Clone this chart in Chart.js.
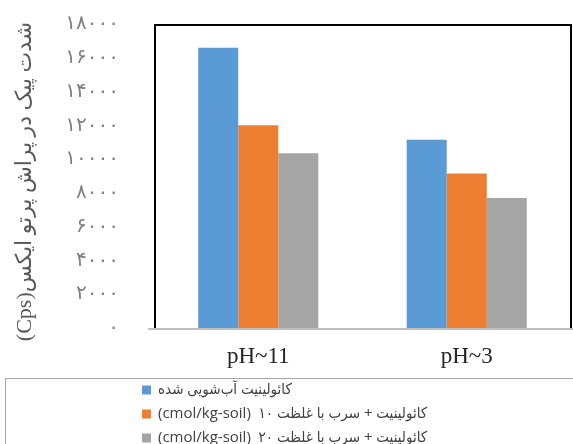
<!DOCTYPE html>
<html lang="fa">
<head>
<meta charset="utf-8">
<script src="https://cdn.jsdelivr.net/npm/chart.js@4/dist/chart.umd.min.js"></script>
<style>
  html, body { margin: 0; padding: 0; background: #ffffff; }
  #wrap { width: 573px; height: 444px; position: relative; }
  canvas { direction: rtl; }
</style>
</head>
<body>
<div id="wrap"><canvas id="c" dir="rtl" width="573" height="444"></canvas></div>
<script>
// pH categories on the x axis
const categories = ['pH~11', 'pH~3'];

// series names (legend) and peak intensities in Cps
const seriesNames = [
  'کائولینیت آب‌شویی شده',
  'کائولینیت + سرب با غلظت ۱۰  (cmol/kg-soil)',
  'کائولینیت + سرب با غلظت ۲۰  (cmol/kg-soil)'
];
const washedKaolinite = [16600, 11150];
const leadConc10 = [12000, 9150];
const leadConc20 = [10350, 7700];

const seriesColors = ['#5b9bd5', '#ed7d31', '#a5a5a5'];

const yAxisTitle = 'شدت پیک در پراش پرتو ایکس(Cps)';
const yMin = 0, yMax = 18000, yStep = 2000;

// convert Latin digits to Persian digits for tick labels
const faDigits = ['۰','۱','۲','۳','۴','۵','۶','۷','۸','۹'];
function toPersian(n) {
  return String(n).replace(/[0-9]/g, d => faDigits[+d]);
}

const AREA_LEFT = 154, AREA_TOP = 24, AREA_RIGHT = 571, AREA_BOTTOM = 328;

// frame around the plot: black left/top/right, grey base line
const framePlugin = {
  id: 'frame',
  afterDatasetsDraw(chart) {
    const { ctx, chartArea: a } = chart;
    ctx.save();
    ctx.strokeStyle = '#000000';
    ctx.lineWidth = 2;
    ctx.beginPath();
    ctx.moveTo(a.left + 1, a.bottom);
    ctx.lineTo(a.left + 1, a.top + 1);
    ctx.lineTo(a.right, a.top + 1);
    ctx.lineTo(a.right, a.bottom);
    ctx.stroke();
    ctx.strokeStyle = '#bfbfbf';
    ctx.beginPath();
    ctx.moveTo(a.left - 6, a.bottom + 1);
    ctx.lineTo(chart.width, a.bottom + 1);
    ctx.stroke();
    ctx.restore();
  }
};

// stacked legend below the plot, one series per row
const legendPlugin = {
  id: 'stackedLegend',
  afterDraw(chart) {
    const { ctx } = chart;
    ctx.save();
    ctx.strokeStyle = '#a6a6a6';
    ctx.lineWidth = 1;
    ctx.strokeRect(5.5, 378.5, chart.width + 10, 100);
    ctx.font = '15px "Open Sans", "DejaVu Sans Condensed", "DejaVu Sans", sans-serif';
    ctx.direction = 'rtl';
    ctx.textAlign = 'left';
    ctx.textBaseline = 'middle';
    chart.data.datasets.forEach((ds, i) => {
      const y = 390 + i * 24;
      ctx.fillStyle = ds.backgroundColor;
      ctx.fillRect(142, y - 4.5, 9, 9);
      ctx.fillStyle = '#404040';
      ctx.fillText(ds.label, 158, y);
    });
    ctx.restore();
  }
};

new Chart(document.getElementById('c'), {
  type: 'bar',
  data: {
    labels: categories,
    datasets: [
      { label: seriesNames[0], data: washedKaolinite, backgroundColor: seriesColors[0] },
      { label: seriesNames[1], data: leadConc10, backgroundColor: seriesColors[1] },
      { label: seriesNames[2], data: leadConc20, backgroundColor: seriesColors[2] }
    ]
  },
  options: {
    responsive: false,
    animation: false,
    events: [],
    layout: { padding: { left: 0, top: 0, right: 573 - AREA_RIGHT, bottom: 444 - AREA_BOTTOM - 40 } },
    datasets: { bar: { categoryPercentage: 0.576, barPercentage: 1, borderWidth: 0 } },
    plugins: { legend: { display: false }, tooltip: { enabled: false } },
    scales: {
      x: {
        grid: { display: false, drawTicks: false },
        border: { display: false },
        ticks: {
          color: '#262626',
          padding: 15,
          font: { family: '"Liberation Serif", serif', size: 23 }
        },
        afterFit(scale) { scale.height = 40; }
      },
      y: {
        min: yMin, max: yMax,
        grid: { display: false, drawTicks: false },
        border: { display: false },
        ticks: {
          stepSize: yStep,
          color: '#808080',
          padding: 35,
          font: { family: '"DejaVu Sans", sans-serif', size: 20 },
          callback: v => toPersian(v)
        },
        title: {
          display: true,
          text: '  ' + yAxisTitle,
          color: '#595959',
          padding: { top: 12, bottom: 0 },
          font: { family: '"Liberation Serif", "DejaVu Sans", serif', size: 22 }
        },
        afterFit(scale) {
          scale.width = AREA_LEFT;
          scale.paddingTop = AREA_TOP;
        }
      }
    }
  },
  plugins: [framePlugin, legendPlugin]
});
</script>
</body>
</html>
